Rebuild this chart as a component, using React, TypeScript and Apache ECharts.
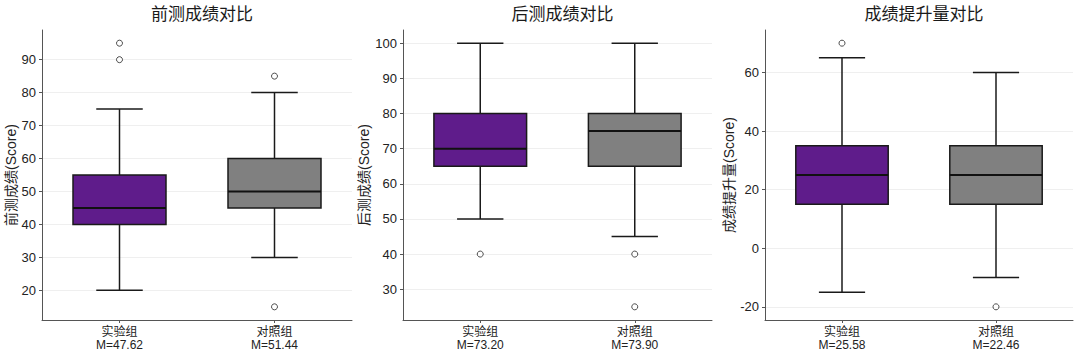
import React, { useEffect, useRef } from "react";
import * as echarts from "echarts";

const categories = ["实验组", "对照组"];
const titles = ["前测成绩对比", "后测成绩对比", "成绩提升量对比"];
const yNames = ["前测成绩(Score)", "后测成绩(Score)", "成绩提升量(Score)"];

// [min, q1, median, q3, max] per group
const preStats = [
  [20, 40, 45, 55, 75],
  [30, 45, 50, 60, 80],
];
const postStats = [
  [50, 65, 70, 80, 100],
  [45, 65, 75, 80, 100],
];
const gainStats = [
  [-15, 15, 25, 35, 65],
  [-10, 15, 25, 35, 60],
];

// [groupIndex, value]
const preOutliers = [[0, 95], [0, 90], [1, 85], [1, 15]];
const postOutliers = [[0, 40], [1, 40], [1, 25]];
const gainOutliers = [[0, 70], [1, -20]];

const preMeans = [47.62, 51.44];
const postMeans = [73.2, 73.9];
const gainMeans = [25.58, 22.46];

const preTicks = [20, 30, 40, 50, 60, 70, 80, 90];
const postTicks = [30, 40, 50, 60, 70, 80, 90, 100];
const gainTicks = [-20, 0, 20, 40, 60];

const preRange = [11, 99];
const postRange = [21.25, 103.75];
const gainRange = [-24.5, 74.5];

const boxColors = ["#5f1c8b", "#808080"];

const panels = [
  { stats: preStats, outliers: preOutliers, means: preMeans, ticks: preTicks, range: preRange, left: 42, width: 310, gap: 21 },
  { stats: postStats, outliers: postOutliers, means: postMeans, ticks: postTicks, range: postRange, left: 403, width: 309, gap: 22 },
  { stats: gainStats, outliers: gainOutliers, means: gainMeans, ticks: gainTicks, range: gainRange, left: 765, width: 308, gap: 23 },
];

const FONT = "'Liberation Sans', Arial, 'Noto Sans CJK SC', sans-serif";

export default function App() {
  const ref = useRef<HTMLDivElement>(null);

  useEffect(() => {
    if (!ref.current) return;
    const chart = echarts.init(ref.current, null, { renderer: "svg" });

    const grid: any[] = [];
    const xAxis: any[] = [];
    const yAxis: any[] = [];
    const series: any[] = [];
    const title: any[] = [];

    panels.forEach((p, i) => {
      grid.push({ left: p.left, top: 30, width: p.width, height: 290 });
      title.push({
        text: titles[i],
        left: p.left + p.width / 2,
        textAlign: "center",
        top: 1,
        textStyle: { fontSize: 17, fontWeight: "normal", color: "#1a1a1a", fontFamily: FONT },
      });
      xAxis.push({
        type: "category",
        gridIndex: i,
        position: "bottom",
        data: categories,
        boundaryGap: true,
        axisLine: { show: true, onZero: false, lineStyle: { color: "#555", width: 1 } },
        axisTick: { show: true, alignWithLabel: true, length: 3, lineStyle: { color: "#555" } },
        axisLabel: { color: "#222", fontSize: 12, fontFamily: FONT, margin: 6 },
        splitLine: { show: false },
      });
      xAxis.push({
        type: "category",
        gridIndex: i,
        position: "bottom",
        offset: 14,
        data: p.means.map((m) => `M=${m.toFixed(2)}`),
        boundaryGap: true,
        axisLine: { show: false, onZero: false },
        axisTick: { show: false },
        axisLabel: { color: "#222", fontSize: 12, fontFamily: FONT, margin: 5 },
        splitLine: { show: false },
      });
      yAxis.push({
        type: "value",
        gridIndex: i,
        min: p.range[0],
        max: p.range[1],
        name: yNames[i],
        nameLocation: "middle",
        nameGap: p.gap,
        nameTextStyle: { fontSize: 14, color: "#222", fontFamily: FONT },
        axisLine: { show: true, lineStyle: { color: "#555", width: 1 } },
        axisTick: { show: true, length: 3, lineStyle: { color: "#555" }, customValues: p.ticks },
        axisLabel: { color: "#222", fontSize: 13, fontFamily: FONT, margin: 6, customValues: p.ticks },
        splitLine: { show: true, lineStyle: { color: "#efefef", width: 1 } },
      });
      series.push({
        type: "custom",
        xAxisIndex: i * 2,
        yAxisIndex: i,
        data: p.stats.map((s, k) => [k, ...s]),
        encode: { x: 0, y: [1, 2, 3, 4, 5] },
        renderItem: (params: any, api: any) => {
          const idx = api.value(0);
          const lo = api.coord([idx, api.value(1)]);
          const q1 = api.coord([idx, api.value(2)]);
          const md = api.coord([idx, api.value(3)]);
          const q3 = api.coord([idx, api.value(4)]);
          const hi = api.coord([idx, api.value(5)]);
          const band = api.size([1, 0])[0];
          const w = band * 0.6;
          const cw = w / 2;
          const x = lo[0];
          const lineStyle = { stroke: "#1a1a1a", lineWidth: 1.5 };
          return {
            type: "group",
            children: [
              { type: "line", shape: { x1: x, y1: q1[1], x2: x, y2: lo[1] }, style: lineStyle },
              { type: "line", shape: { x1: x, y1: q3[1], x2: x, y2: hi[1] }, style: lineStyle },
              { type: "line", shape: { x1: x - cw / 2, y1: lo[1], x2: x + cw / 2, y2: lo[1] }, style: lineStyle },
              { type: "line", shape: { x1: x - cw / 2, y1: hi[1], x2: x + cw / 2, y2: hi[1] }, style: lineStyle },
              {
                type: "rect",
                shape: { x: x - w / 2, y: q3[1], width: w, height: q1[1] - q3[1] },
                style: { fill: boxColors[idx], stroke: "#1a1a1a", lineWidth: 1.5 },
              },
              { type: "line", shape: { x1: x - w / 2, y1: md[1], x2: x + w / 2, y2: md[1] }, style: { stroke: "#111", lineWidth: 2 } },
            ],
          };
        },
        z: 2,
      });
      series.push({
        type: "scatter",
        xAxisIndex: i * 2,
        yAxisIndex: i,
        data: p.outliers,
        symbol: "circle",
        symbolSize: 6,
        itemStyle: { color: "#ffffff", borderColor: "#222", borderWidth: 1 },
        z: 3,
      });
    });

    chart.setOption({
      animation: false,
      backgroundColor: "#ffffff",
      textStyle: { fontFamily: FONT },
      title,
      grid,
      xAxis,
      yAxis,
      series,
    });

    return () => chart.dispose();
  }, []);

  return (
    <div
      ref={ref}
      style={{ position: "fixed", left: 0, top: 0, width: 1080, height: 356, background: "#fff" }}
    />
  );
}
